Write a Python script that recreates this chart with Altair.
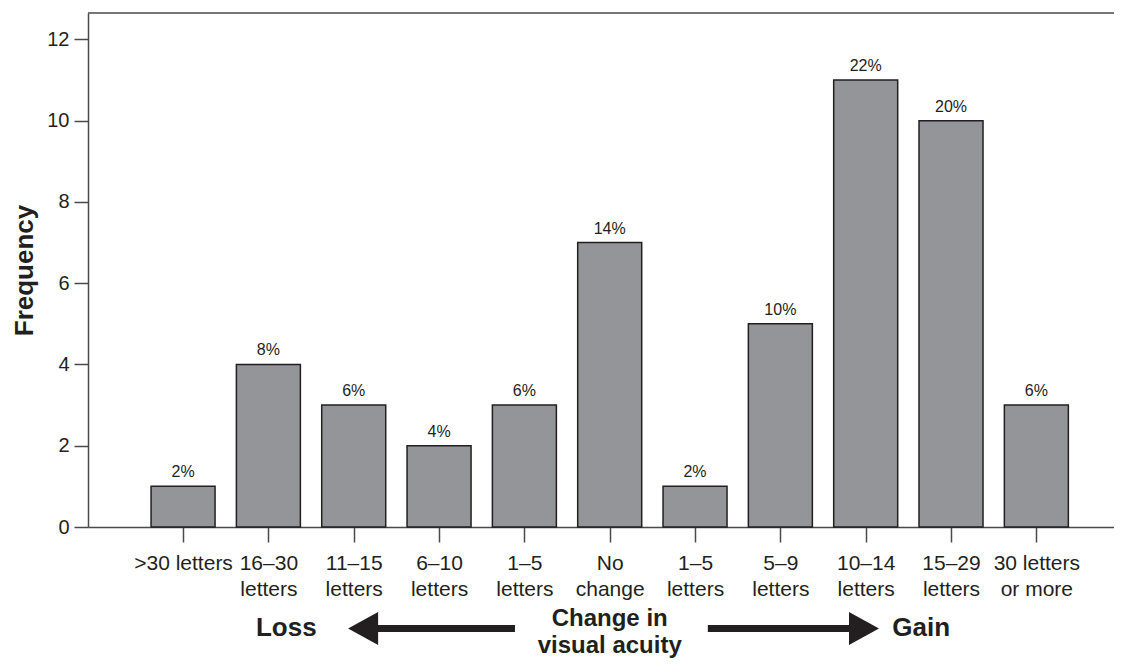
import json
import altair as alt
import pandas as pd

# ---- data ----
label_lines = [
    [">30 letters"], ["16–30", "letters"], ["11–15", "letters"], ["6–10", "letters"],
    ["1–5", "letters"], ["No", "change"], ["1–5", "letters"], ["5–9", "letters"],
    ["10–14", "letters"], ["15–29", "letters"], ["30 letters", "or more"],
]
frequency = [1, 4, 3, 2, 3, 7, 1, 5, 11, 10, 3]
percent_labels = ["2%", "8%", "6%", "4%", "6%", "14%", "2%", "10%", "22%", "20%", "6%"]
y_ticks = [0, 2, 4, 6, 8, 10, 12]

positions = list(range(1, len(frequency) + 1))
FONT = "Liberation Sans, Arial, Helvetica, sans-serif"
INK = "#231f20"
AXIS = "#4a4a4a"
X_DOMAIN = [-0.114, 11.91]
Y_MAX = 12.65

bars_df = pd.DataFrame({
    "pos": positions,
    "freq": frequency,
    "pct": percent_labels,
})
bars_df["x0"] = bars_df["pos"] - 0.375
bars_df["x1"] = bars_df["pos"] + 0.375
bars_df["zero"] = 0

label_expr = json.dumps(label_lines, ensure_ascii=False) + "[datum.value - 1]"

xscale = alt.Scale(domain=X_DOMAIN, nice=False, zero=False)
yscale = alt.Scale(domain=[0, Y_MAX], nice=False)

base = alt.Chart(bars_df)

bars = base.mark_bar(fill="#939598", stroke=INK, strokeWidth=1.5).encode(
    x=alt.X("x0:Q", scale=xscale, axis=alt.Axis(
        values=positions, labelExpr=label_expr, title=None, grid=False,
        tickSize=15, tickColor=AXIS, tickWidth=1.5, domainColor=AXIS, domainWidth=1.5,
        labelFont=FONT, labelFontSize=21, labelColor=INK, labelLineHeight=26,
        labelPadding=10, labelAngle=0, labelOverlap=False, labelFlush=False,
        labelBaseline="top")),
    x2="x1:Q",
    y=alt.Y("freq:Q", scale=yscale, axis=alt.Axis(
        values=y_ticks, title="Frequency", grid=False, format="d",
        tickSize=14, tickColor=AXIS, tickWidth=1.5, domainColor=AXIS, domainWidth=1.5,
        labelFont=FONT, labelFontSize=20, labelColor=INK, labelPadding=5,
        titleFont=FONT, titleFontSize=26, titleFontWeight="bold", titleColor=INK,
        titlePadding=9)),
    y2="zero:Q",
)

pct_text = base.mark_text(font=FONT, fontSize=16, color=INK, baseline="alphabetic", dy=-9).encode(
    x=alt.X("pos:Q", scale=xscale),
    y=alt.Y("freq:Q", scale=yscale),
    text="pct:N",
)

top_rule = alt.Chart(pd.DataFrame({"top": [Y_MAX]})).mark_rule(
    color=AXIS, strokeWidth=1.5).encode(y=alt.Y("top:Q", scale=yscale))

# ---- annotation below the axis (in data coordinates) ----
ann_y = -2.48
words_df = pd.DataFrame({
    "x": [2.21, 9.65],
    "y": [ann_y, ann_y],
    "t": ["Loss", "Gain"],
})
words = alt.Chart(words_df).mark_text(
    font=FONT, fontSize=26, fontWeight="bold", color=INK, baseline="middle").encode(
    x=alt.X("x:Q", scale=xscale), y=alt.Y("y:Q", scale=yscale), text="t:N")

center_df = pd.DataFrame({"x": [6.0], "y": [-1.98], "t": ["Change in\nvisual acuity"]})
center_text = alt.Chart(center_df).mark_text(
    font=FONT, fontSize=24, fontWeight="bold", color=INK, baseline="top",
    lineBreak="\n", lineHeight=27).encode(
    x=alt.X("x:Q", scale=xscale), y=alt.Y("y:Q", scale=yscale), text="t:N")

shaft_df = pd.DataFrame({"x": [3.2, 7.15], "x2": [4.89, 8.9], "y": [ann_y - 0.02, ann_y - 0.02]})
shafts = alt.Chart(shaft_df).mark_rule(color=INK, strokeWidth=7).encode(
    x=alt.X("x:Q", scale=xscale), x2="x2:Q", y=alt.Y("y:Q", scale=yscale))

left_head = alt.Chart(pd.DataFrame({"x": [3.11], "y": [ann_y - 0.02]})).mark_point(
    shape="M -0.91 0 L 0.91 -1 L 0.91 1 Z", filled=True, fill=INK,
    opacity=1, size=1089).encode(x=alt.X("x:Q", scale=xscale), y=alt.Y("y:Q", scale=yscale))
right_head = alt.Chart(pd.DataFrame({"x": [8.98], "y": [ann_y - 0.02]})).mark_point(
    shape="M 0.91 0 L -0.91 -1 L -0.91 1 Z", filled=True, fill=INK,
    opacity=1, size=1089).encode(x=alt.X("x:Q", scale=xscale), y=alt.Y("y:Q", scale=yscale))

chart = alt.layer(
    bars, pct_text, top_rule, words, center_text, shafts, left_head, right_head
).properties(
    width=1026, height=514,
    autosize=alt.AutoSizeParams(type="none"),
    padding={"left": 80, "top": 5, "right": 0, "bottom": 132},
    background="white",
).configure_view(stroke=None)

chart.save("out.html", embed_options={"renderer": "svg", "actions": False})
